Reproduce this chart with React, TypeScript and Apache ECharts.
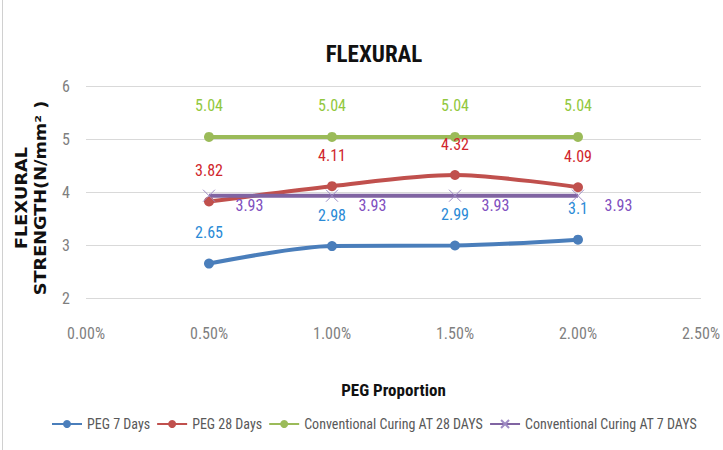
import React, { useEffect, useRef } from "react";
import * as echarts from "echarts";

const xValues = [0.005, 0.01, 0.015, 0.02];
const peg7 = [2.65, 2.98, 2.99, 3.1];
const peg28 = [3.82, 4.11, 4.32, 4.09];
const conv28 = [5.04, 5.04, 5.04, 5.04];
const conv7 = [3.93, 3.93, 3.93, 3.93];
const seriesNames = [
  "PEG 7 Days",
  "PEG 28 Days",
  "Conventional Curing AT 28 DAYS",
  "Conventional Curing AT 7 DAYS",
];
const yTicks = [2, 3, 4, 5, 6];

const NARROW = "'Liberation Sans Narrow', 'Arial Narrow', 'Roboto Condensed', sans-serif";

export default function App() {
  const ref = useRef<HTMLDivElement>(null);
  useEffect(() => {
    if (!ref.current) return;
    const chart = echarts.init(ref.current, null, { renderer: "svg" });
    const pairs = (ys: number[]) => xValues.map((x, i) => [x, ys[i]]);
    const lbl = (color: string) => ({
      show: true,
      position: "top" as const,
      distance: 18,
      color,
      fontFamily: NARROW,
      fontSize: 16,
    });
    const option: any = {
      animation: false,
      backgroundColor: "#ffffff",
      title: {
        text: "FLEXURAL",
        left: 369,
        top: 38,
        textAlign: "center",
        textStyle: { fontFamily: NARROW, fontWeight: "bold", fontSize: 23, color: "#111" },
      },
      grid: { left: 86, right: 21, top: 86, bottom: 152, containLabel: false },
      xAxis: {
        type: "value",
        min: 0,
        max: 0.025,
        interval: 0.005,
        name: "PEG Proportion",
        nameLocation: "middle",
        nameGap: 83,
        nameTextStyle: { fontFamily: NARROW, fontWeight: "bold", fontSize: 17, color: "#111" },
        axisLine: { show: false },
        axisTick: { show: false },
        splitLine: { show: false },
        axisLabel: {
          margin: 27,
          color: "#7f7f7f",
          fontFamily: NARROW,
          fontSize: 16,
          formatter: (v: number) => (v * 100).toFixed(2) + "%",
        },
      },
      yAxis: {
        type: "value",
        min: yTicks[0],
        max: yTicks[yTicks.length - 1],
        interval: 1,
        axisLine: { show: false },
        axisTick: { show: false },
        splitLine: { lineStyle: { color: "#d9d9d9", width: 1 } },
        axisLabel: { margin: 16, color: "#7f7f7f", fontFamily: NARROW, fontSize: 16 },
      },
      legend: {
        bottom: 14,
        left: 46,
        itemGap: 6,
        itemWidth: 30,
        itemHeight: 10,
        textStyle: { fontFamily: NARROW, fontSize: 14, color: "#595959" },
        data: seriesNames,
      },
      graphic: [
        {
          type: "text",
          x: 31,
          y: 198,
          rotation: Math.PI / 2,
          scaleX: 1.18,
          style: {
            text: "FLEXURAL\nSTRENGTH(N/mm² )",
            fontFamily: "'DejaVu Sans', Verdana, sans-serif",
            fontWeight: "bold",
            fontSize: 15,
            fill: "#111",
            align: "center",
            verticalAlign: "middle",
            lineHeight: 19,
          },
        },
        {
          type: "line",
          shape: { x1: 2.5, y1: 0, x2: 2.5, y2: 450 },
          style: { stroke: "#d0d0d0", lineWidth: 1 },
        },
      ],
      series: [
        {
          name: seriesNames[0],
          type: "line",
          smooth: 0.3,
          data: pairs(peg7),
          symbol: "circle",
          symbolSize: 10,
          lineStyle: { width: 4, color: "#4a7ebb" },
          itemStyle: { color: "#4a7ebb" },
          label: lbl("#2a8ad6"),
        },
        {
          name: seriesNames[1],
          type: "line",
          smooth: 0.3,
          data: pairs(peg28),
          symbol: "circle",
          symbolSize: 10,
          lineStyle: { width: 4, color: "#c0504d" },
          itemStyle: { color: "#c0504d" },
          label: lbl("#d0262d"),
        },
        {
          name: seriesNames[2],
          type: "line",
          data: pairs(conv28),
          symbol: "circle",
          symbolSize: 10,
          lineStyle: { width: 4, color: "#9bbb59" },
          itemStyle: { color: "#9bbb59" },
          label: lbl("#92c83e"),
        },
        {
          name: seriesNames[3],
          type: "line",
          data: pairs(conv7),
          symbol: "path://M0,0L10,10M10,0L0,10",
          symbolSize: 12,
          lineStyle: { width: 4, color: "#8064a2" },
          itemStyle: { color: "none", borderColor: "#9f8cc4", borderWidth: 1 },
          label: {
            show: true,
            position: "right",
            distance: 12,
            offset: [6, 10],
            color: "#7f4fc0",
            fontFamily: NARROW,
            fontSize: 16,
          },
        },
      ],
    };
    chart.setOption(option);
    return () => chart.dispose();
  }, []);
  return (
    <div
      ref={ref}
      style={{ position: "fixed", left: 0, top: 0, width: 723, height: 450 }}
    />
  );
}
